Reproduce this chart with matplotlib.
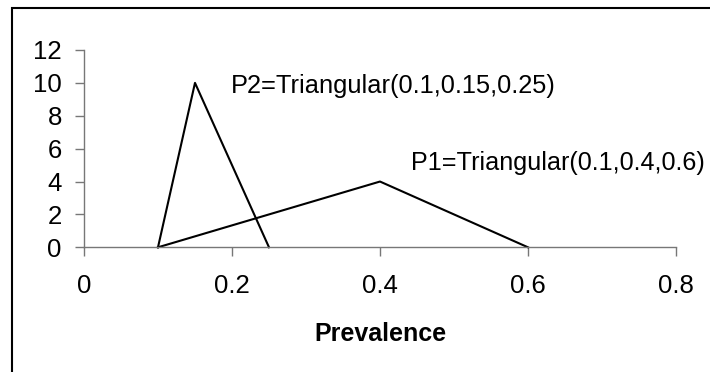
import matplotlib

matplotlib.use("Agg")
import matplotlib.pyplot as plt
from matplotlib.patches import Rectangle

plt.rcParams["font.family"] = ["Liberation Sans", "DejaVu Sans"]

# triangular densities: (min, mode, max) -> density at those points
P2_X = [0.1, 0.15, 0.25]
P2_Y = [0, 10, 0]
P1_X = [0.1, 0.4, 0.6]
P1_Y = [0, 4, 0]

X_TICKS = [0, 0.2, 0.4, 0.6, 0.8]
X_TICK_LABELS = ["0", "0.2", "0.4", "0.6", "0.8"]
Y_TICKS = [0, 2, 4, 6, 8, 10, 12]

P2_LABEL = "P2=Triangular(0.1,0.15,0.25)"
P1_LABEL = "P1=Triangular(0.1,0.4,0.6)"
X_LABEL = "Prevalence"

AXIS_GREY = "#777777"

fig = plt.figure(figsize=(7.1, 3.72), dpi=100)
ax = fig.add_axes([0.1183, 0.3352, 0.8338, 0.5304])

ax.plot(P2_X, P2_Y, color="black", linewidth=1.5, clip_on=False)
ax.plot(P1_X, P1_Y, color="black", linewidth=1.5, clip_on=False)

ax.set_xlim(0, 0.8)
ax.set_ylim(0, 12)
ax.set_xticks(X_TICKS)
ax.set_xticklabels(X_TICK_LABELS)
ax.set_yticks(Y_TICKS)

for side in ("top", "right"):
    ax.spines[side].set_visible(False)
for side in ("left", "bottom"):
    ax.spines[side].set_color(AXIS_GREY)
    ax.spines[side].set_linewidth(1.0)

ax.tick_params(axis="both", direction="out", length=6.5, width=1.0,
               color=AXIS_GREY, labelsize=18.5, labelcolor="black")
ax.tick_params(axis="x", pad=13)
ax.tick_params(axis="y", pad=9.5)

ax.set_xlabel(X_LABEL, fontsize=18, fontweight="bold", labelpad=17)

ax.text(0.1986, 9.40, P2_LABEL, fontsize=18.3, va="baseline", ha="left")
ax.text(0.4420, 4.70, P1_LABEL, fontsize=18.1, va="baseline", ha="left")

# outer chart border (runs off the right/bottom of the image)
fig.patches.append(Rectangle((11.7 / 710, -0.1), 1.2, 1.0777,
                             transform=fig.transFigure, fill=False,
                             edgecolor="black", linewidth=1.5))

fig.savefig("out.png", dpi=100)
